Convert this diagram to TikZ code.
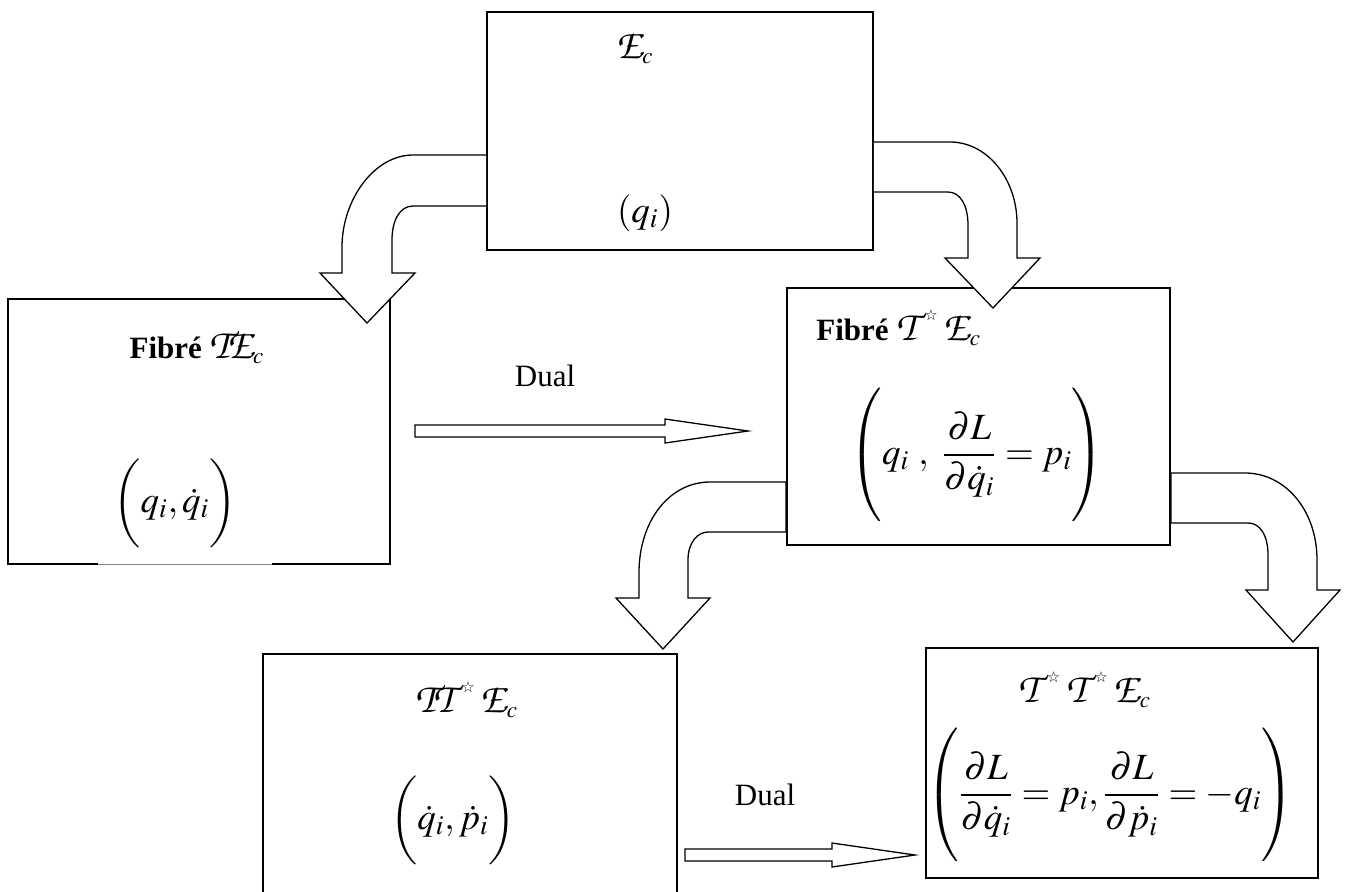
\documentclass[tikz,border=0pt]{standalone}
\usepackage{amsmath}
\usepackage{mathptmx}
\usepackage[no-math]{fontspec}
\setmainfont{Liberation Serif}
\newfontfamily\symfont{DejaVu Sans}
\usetikzlibrary{positioning, calc}
\newcommand{\dstar}{\mbox{\kern3.5pt\raisebox{10pt}{\symfont\fontsize{7.5}{7.5}\selectfont ☆}\kern3pt}}
\newcommand{\chan}[1]{\mbox{\usefont{OT1}{pzc}{mb}{it}\fontsize{21}{24}\selectfont #1}}

\begin{document}
\begin{tikzpicture}[x=0.5pt, y=-0.5pt,
  box/.style={draw, line width=0.9pt, inner sep=0pt},
  lbl/.style={inner sep=0pt, font=\fontsize{15.5}{18}\selectfont},
  frm/.style={inner sep=0pt, font=\fontsize{18.5}{22}\selectfont},
  blk/.style={draw, fill=white, line width=0.65pt, line join=miter}]
  \useasboundingbox (0,0) rectangle (1346,891);

  % boxes
  \node[box, minimum width=193pt, minimum height=119pt] (ec) at (680,131) {};
  \node[box, minimum width=191pt, minimum height=132.5pt] (te) at (199,431.5) {};
  \node[box, minimum width=191.5pt, minimum height=128.5pt] (tse) at (978.5,416.5) {};
  \node[box, minimum width=207pt, minimum height=123pt] (ttse) at (470,777) {};
  \node[box, minimum width=196pt, minimum height=115pt] (tstse) at (1122,763) {};
  \draw[white, line width=1pt] (98,564) -- (272,564);
  \draw[gray, line width=0.4pt] (98,564) -- (272,564);

  % texts
  \node[lbl] (ecname) at (635,48) {$\chan{E}_{c}$};
  \node[frm] (ecq) at (645,213) {$(q_i)$};
  \node[lbl] (tename) at (197,347) {\textbf{Fibré} $\chan{T}\!\chan{E}_{c}$};
  \node[frm] (teq) at (175,503)
    {$\left(\vrule height 17pt depth 17pt width 0pt q_i,\dot{q}_i\right)$};
  \node[lbl, anchor=west] (tsename) at (816,328)
    {\textbf{Fibré} $\chan{T}\dstar\chan{E}_{c}$};
  \node[frm] (tseq) at (977,455)
    {$\left(\vrule height 28pt depth 28pt width 0pt q_i\ ,\ \dfrac{\partial L}{\partial\dot{q}_i}=p_i\right)$};
  \node[lbl] (ttsename) at (467,700) {$\chan{T}\!\chan{T}\dstar\chan{E}_{c}$};
  \node[frm] (ttseq) at (453,820)
    {$\left(\vrule height 17pt depth 17pt width 0pt \dot{q}_i,\dot{p}_i\right)$};
  \node[lbl] (tstsename) at (1085,690) {$\chan{T}\dstar\chan{T}\dstar\chan{E}_{c}$};
  \node[frm] (tstseq) at (1110,795)
    {$\left(\vrule height 28pt depth 28pt width 0pt \dfrac{\partial L}{\partial\dot{q}_i}=p_i,\dfrac{\partial L}{\partial\dot{p}_i}=-q_i\right)$};
  \node[lbl] (dualA) at (545,376) {Dual};
  \node[lbl] (dualB) at (765,795) {Dual};

  % bent arrows
  \draw[blk] (ec.west |- 0,155) -- (413,155) .. controls (374,155) and (342,200) .. (342,247)
    -- (342,273) -- (320,273) -- (367,323) -- (415,273) -- (392,273) -- (392,240)
    .. controls (392,220) and (400,206) .. (413,206) -- (ec.west |- 0,206);
  \draw[blk] (ec.east |- 0,142) -- (950,142) .. controls (988,142) and (1017,180) .. (1017,223)
    -- (1017,258) -- (1040,258) -- (993,308) -- (945,258) -- (968,258) -- (968,225)
    .. controls (968,205) and (960,192) .. (948,192) -- (ec.east |- 0,192);
  \draw[blk] (tse.west |- 0,482) -- (710,482) .. controls (670,482) and (639,520) .. (639,573)
    -- (639,598) -- (616,598) -- (663,649) -- (710,598) -- (688,598) -- (688,560)
    .. controls (688,542) and (698,532) .. (708,532) -- (tse.west |- 0,532) -- cycle;
  \draw[blk] (tse.east |- 0,473) -- (1245,473) .. controls (1285,473) and (1317,510) .. (1317,560)
    -- (1317,590) -- (1340,590) -- (1293,642) -- (1246,590) -- (1268,590) -- (1268,555)
    .. controls (1268,535) and (1260,523) .. (1248,523) -- (tse.east |- 0,523) -- cycle;

  % dual arrows
  \draw[blk] (415,425) -- (665,425) -- (665,419) -- (748,431) -- (665,443) -- (665,437)
    -- (415,437) -- cycle;
  \draw[blk] (685,849) -- (832,849) -- (832,843) -- (915,855) -- (832,867) -- (832,861)
    -- (685,861) -- cycle;
\end{tikzpicture}
\end{document}
